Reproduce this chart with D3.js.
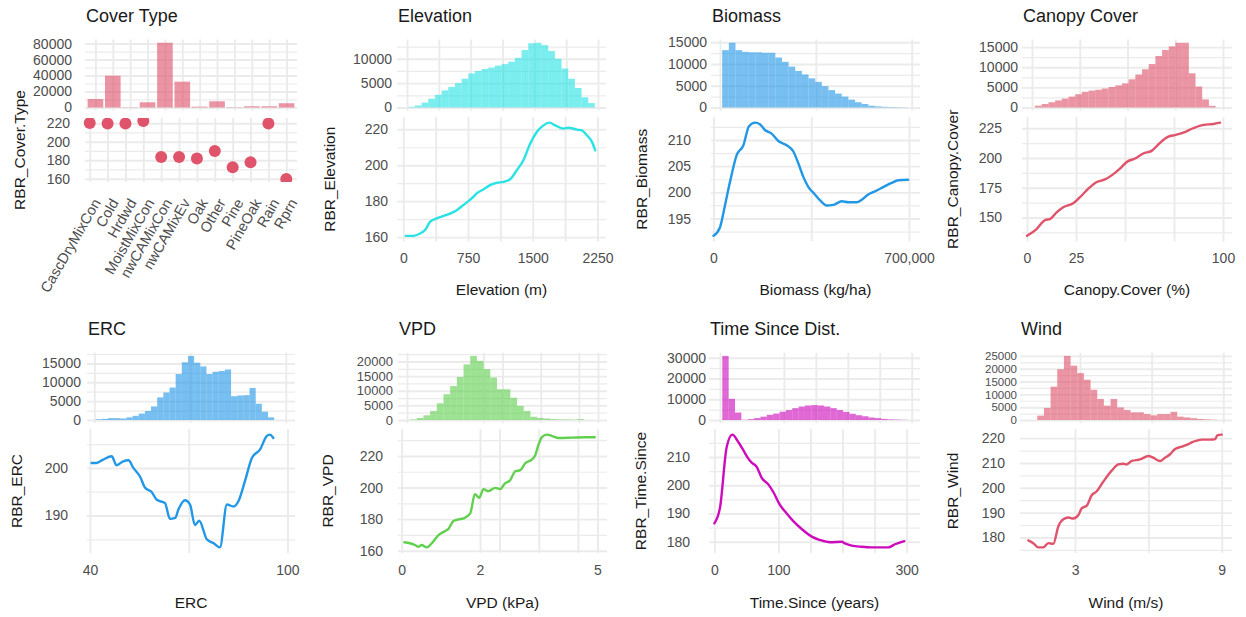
<!DOCTYPE html>
<html>
<head>
<meta charset="utf-8">
<script src="https://cdn.jsdelivr.net/npm/d3@7"></script>
<style>
  body { margin: 0; background: #ffffff; }
  svg text { font-family: "Liberation Sans", Arial, sans-serif; }
</style>
</head>
<body>
<svg id="chart" width="1246" height="617"></svg>
<script>
// ---------------- data ----------------
// Cover type (categorical)
const coverTypes = ["CascDryMixCon","Cold","Hrdwd","MoistMixCon","nwCAMixCon","nwCAMixEv","Oak","Other","Pine","PineOak","Rain","Rprn"];
const coverCounts = [10600, 39700, 300, 6500, 81000, 32300, 1000, 7700, 400, 1500, 1500, 5300];
const coverRBR = [220.3, 219.6, 219.6, 222.5, 183.6, 183.6, 181.8, 190.0, 172.4, 177.8, 219.6, 159.6];

// Elevation (m)
const elevBinStart = 15, elevBinWidth = 78.5;
const elevCounts = [140, 400, 1000, 1800, 2600, 3500, 4200, 5000, 5900, 7000, 7500, 7900, 8200, 8600, 8900, 9400, 10200, 11800, 13200, 13300, 12800, 11600, 10000, 8000, 5900, 4000, 2100, 900];
const elevX = [28, 116, 194, 252, 310, 387, 464, 542, 619, 696, 754, 812, 851, 928, 1006, 1083, 1160, 1238, 1315, 1392, 1470, 1547, 1624, 1694, 1760, 1856, 1914, 2011, 2069, 2127, 2186, 2224];
const elevRBR = [160.7, 160.7, 162.0, 163.9, 168.5, 170.4, 171.7, 173.1, 175.0, 177.8, 180.0, 182.4, 184.3, 186.5, 188.9, 190.2, 190.7, 192.2, 197.2, 202.8, 212.0, 218.5, 222.2, 223.7, 222.2, 220.4, 220.9, 219.8, 219.4, 216.7, 213.0, 208.3];

// Biomass (kg/ha)
const bioBinStart = 8000, bioBinWidth = 24250;
const bioCounts = [13200, 14900, 13200, 12800, 12700, 12700, 12600, 12600, 11500, 10500, 9400, 8400, 7600, 6700, 5900, 4900, 4000, 3200, 2500, 1800, 1200, 800, 400, 250, 150, 100, 60, 30];
const bioX = [0, 23000, 41000, 59000, 83000, 107000, 127000, 149000, 166000, 184000, 208000, 232000, 262000, 286000, 304000, 322000, 340000, 363000, 381000, 405000, 429000, 459000, 483000, 513000, 531000, 554000, 578000, 608000, 638000, 662000, 697000];
const bioRBR = [191.7, 193.3, 197.5, 202.0, 207.1, 209.0, 212.6, 213.3, 213.0, 211.9, 211.2, 209.8, 209.0, 207.8, 205.5, 202.9, 201.0, 199.6, 198.5, 197.5, 197.6, 198.3, 198.1, 198.1, 198.6, 199.6, 200.2, 201.0, 201.8, 202.3, 202.4];

// Canopy cover (%)
const canBinStart = 1.6, canBinWidth = 3.5;
const canCounts = [450, 850, 1300, 1750, 2200, 2700, 3300, 3900, 4200, 4400, 4700, 5100, 5500, 6000, 7000, 8200, 9500, 10800, 12800, 14300, 15200, 16100, 16100, 8500, 5200, 2000, 400];
const canX = [0, 4.9, 9.2, 11.7, 15.1, 18.5, 23.6, 27.9, 31.3, 35.6, 39.8, 43.2, 47.4, 50.9, 55.1, 59.3, 63.6, 67.9, 72.1, 75.5, 79.7, 84.8, 90.0, 95.1, 98.5];
const canRBR = [134.6, 140.3, 147.9, 148.7, 154.3, 158.6, 162.0, 168.5, 174.2, 179.8, 182.0, 185.4, 191.1, 196.7, 199.6, 203.8, 206.0, 212.8, 217.9, 219.3, 221.3, 225.0, 227.8, 228.6, 229.7];

// ERC
const ercBinStart = 40.4, ercBinWidth = 1.93;
const ercCounts = [200, 300, 500, 500, 400, 700, 1100, 1700, 2400, 3600, 6000, 7300, 8600, 12200, 15300, 17000, 15200, 14200, 12200, 12800, 13000, 13400, 6300, 6500, 6600, 8500, 4300, 2200, 700];
const ercX = [40.5, 42.0, 44.0, 46.6, 48.1, 50.1, 51.7, 53.2, 55.2, 56.7, 58.8, 60.3, 62.8, 64.3, 65.9, 66.9, 68.9, 70.4, 71.9, 73.2, 75.5, 77.5, 79.5, 81.6, 83.6, 85.1, 87.2, 89.2, 91.7, 93.7, 94.7, 95.7];
const ercRBR = [201.05, 201.05, 201.75, 202.45, 200.55, 201.4, 201.6, 200.0, 198.2, 195.9, 194.9, 193.3, 192.6, 189.3, 189.5, 191.3, 193.2, 192.3, 188.0, 188.9, 185.0, 184.2, 183.3, 192.3, 191.9, 193.0, 197.5, 202.1, 203.9, 206.7, 207.0, 206.3];

// VPD (kPa)
const vpdBinStart = 0.08, vpdBinWidth = 0.175;
const vpdCounts = [200, 700, 1600, 3100, 5700, 8800, 11600, 14700, 19000, 21900, 20200, 17400, 14500, 10500, 10500, 7600, 4800, 3100, 1100, 700, 500, 300, 200, 200, 100, 300];
const vpdX = [0.07, 0.21, 0.34, 0.43, 0.51, 0.64, 0.77, 0.94, 1.11, 1.19, 1.32, 1.45, 1.58, 1.75, 1.87, 1.98, 2.09, 2.21, 2.39, 2.51, 2.64, 2.77, 2.90, 3.03, 3.15, 3.32, 3.41, 3.49, 3.58, 3.71, 3.84, 4.01, 4.35, 4.69, 4.93];
const vpdRBR = [165.3, 164.7, 163.6, 162.5, 163.6, 162.1, 164.7, 169.9, 172.4, 173.7, 178.8, 179.8, 180.5, 183.6, 195.8, 193.5, 199.0, 197.7, 199.8, 199.0, 202.6, 204.6, 210.3, 211.0, 215.2, 217.7, 220.4, 226.8, 232.0, 233.5, 232.6, 231.4, 231.6, 231.8, 231.8];

// Time since disturbance (years)
const tsdBinStart = 3.6, tsdBinWidth = 9.95;
const tsdCounts = [30900, 10200, 3600, 100, 400, 900, 1600, 2500, 3100, 4000, 4800, 5700, 6500, 7000, 7200, 7000, 6500, 5700, 4800, 3900, 3000, 2300, 1800, 1200, 900, 500, 300, 200, 100];
const tsdX = [0, 8.9, 19.3, 28.1, 37.4, 45.2, 53.0, 58.3, 66.1, 73.9, 84.2, 92.0, 102.4, 112.9, 123.2, 136.3, 151.9, 164.8, 180.4, 198.7, 203.8, 214.3, 229.9, 245.4, 261.0, 271.3, 281.8, 296.3];
const tsdRBR = [186.5, 192.1, 213.5, 217.9, 215.3, 212.4, 209.4, 208.0, 206.5, 202.6, 200.3, 197.6, 193.0, 190.0, 187.3, 184.5, 181.8, 180.6, 179.8, 180.0, 179.4, 178.6, 178.2, 178.0, 178.0, 178.0, 179.1, 180.2];

// Wind (m/s)
const windBinStart = 1.21, windBinWidth = 0.279;
const windCounts = [1700, 4700, 13000, 19800, 25000, 21200, 18300, 15700, 11800, 8200, 5600, 8200, 4900, 3900, 3000, 3000, 2300, 1800, 2300, 2300, 3200, 1300, 1000, 700, 400, 250, 100];
const windX = [1.09, 1.29, 1.50, 1.70, 1.91, 2.11, 2.32, 2.52, 2.73, 2.93, 3.14, 3.27, 3.48, 3.68, 3.89, 4.16, 4.50, 4.77, 4.98, 5.11, 5.32, 5.66, 6.00, 6.20, 6.48, 6.68, 6.89, 7.09, 7.37, 7.64, 7.77, 7.98, 8.18, 8.52, 8.73, 8.82, 9.00];
const windRBR = [178.8, 177.7, 176.0, 176.0, 177.7, 177.4, 184.5, 187.3, 188.0, 187.6, 189.0, 191.7, 192.8, 197.0, 198.6, 202.5, 206.9, 209.4, 209.7, 209.4, 210.8, 211.4, 212.8, 212.1, 210.8, 212.1, 213.5, 215.6, 216.6, 217.6, 218.3, 219.0, 219.4, 219.4, 219.6, 221.1, 221.4];

// ---------------- layout & style ----------------
const rows = [
  { titleY: 22,  histTop: 39.5,  histBot: 110.7, lineTop: 117, lineBot: 241.5, tickY: 258, xTitleY: 290 },
  { titleY: 335, histTop: 352.7, histBot: 423.2, lineTop: 429, lineBot: 553,   tickY: 570, xTitleY: 603 }
];
const FONT = '"Liberation Sans", Arial, sans-serif';
const GRID = "#ebebeb";
const TICK = "#4d4d4d";
const TITLE_SIZE = 18, TICK_SIZE = 14, AXIS_TITLE_SIZE = 15.5, ROT_SIZE = 14.6;
const HIST_ALPHA = 0.62;

const panels = [
  { title: "Elevation", xTitle: "Elevation (m)", yTitle: "RBR_Elevation", color: "#28E2E5", row: 0, L: 397, R: 606, yTitleX: 330, histGap: 5, lineGap: 9,
    binStart: elevBinStart, binWidth: elevBinWidth, counts: elevCounts, histXDomain: [-118, 2344], histYTicks: [0, 5000, 10000],
    histGridX: [0, 375, 750, 1125, 1500, 1875, 2250],
    x: elevX, y: elevRBR, lineXDomain: [-73, 2349], lineYTicks: [160, 180, 200, 220],
    lineGridX: [0, 375, 750, 1125, 1500, 1875, 2250], xLabels: [0, 750, 1500, 2250], fmt: d3.format("d") },
  { title: "Biomass", xTitle: "Biomass (kg/ha)", yTitle: "RBR_Biomass", color: "#2297E6", row: 0, L: 711, R: 920, yTitleX: 642, histGap: 4, lineGap: 20,
    binStart: bioBinStart, binWidth: bioBinWidth, counts: bioCounts, histXDomain: [-32900, 730300], histYTicks: [0, 5000, 10000, 15000],
    histGridX: [0, 350000, 700000],
    x: bioX, y: bioRBR, lineXDomain: [-9000, 739500], lineYTicks: [195, 200, 205, 210],
    lineGridX: [0, 350000, 700000], xLabels: [0, 700000], fmt: d3.format(",") },
  { title: "Canopy Cover", xTitle: "Canopy.Cover (%)", yTitle: "RBR_Canopy.Cover", color: "#DF536B", row: 0, L: 1022, R: 1232, yTitleX: 953, histGap: 4, lineGap: 20,
    binStart: canBinStart, binWidth: canBinWidth, counts: canCounts, histXDomain: [-5.24, 104.7], histYTicks: [0, 5000, 10000, 15000],
    histGridX: [0, 25, 50, 75, 100],
    x: canX, y: canRBR, lineXDomain: [-2.55, 104.6], lineYTicks: [150, 175, 200, 225],
    lineGridX: [0, 25, 50, 75, 100], xLabels: [0, 25, 100], fmt: d3.format("d") },
  { title: "ERC", xTitle: "ERC", yTitle: "RBR_ERC", color: "#2297E6", row: 1, L: 87, R: 295, yTitleX: 17, histGap: 6, lineGap: 19,
    binStart: ercBinStart, binWidth: ercBinWidth, counts: ercCounts, histXDomain: [37.7, 102.9], histYTicks: [0, 5000, 10000, 15000],
    histGridX: [40, 70, 100],
    x: ercX, y: ercRBR, lineXDomain: [39.1, 102.3], lineYTicks: [190, 200],
    lineGridX: [40, 70, 100], xLabels: [40, 100], fmt: d3.format("d") },
  { title: "VPD", xTitle: "VPD (kPa)", yTitle: "RBR_VPD", color: "#61D04F", row: 1, L: 398, R: 607, yTitleX: 328, histGap: 5, lineGap: 15,
    binStart: vpdBinStart, binWidth: vpdBinWidth, counts: vpdCounts, histXDomain: [-0.236, 5.236], histYTicks: [0, 5000, 10000, 15000, 20000],
    histGridX: [0, 2, 2.5, 3.5, 4.5, 5], histTickSize: 13,
    x: vpdX, y: vpdRBR, lineXDomain: [-0.094, 5.243], lineYTicks: [160, 180, 200, 220],
    lineGridX: [0, 2, 2.5, 3.5, 4.5, 5], xLabels: [0, 2, 5], fmt: d3.format("d") },
  { title: "Time Since Dist.", xTitle: "Time.Since (years)", yTitle: "RBR_Time.Since", color: "#CD0BBC", row: 1, L: 709, R: 920, yTitleX: 641, histGap: 3, lineGap: 19,
    binStart: tsdBinStart, binWidth: tsdBinWidth, counts: tsdCounts, histXDomain: [-17.2, 313], histYTicks: [0, 10000, 20000, 30000],
    histGridX: [0, 100, 150, 200, 250, 300],
    x: tsdX, y: tsdRBR, lineXDomain: [-8.3, 320.8], lineYTicks: [180, 190, 200, 210],
    lineGridX: [0, 100, 150, 200, 250, 300], xLabels: [0, 100, 300], fmt: d3.format("d") },
  { title: "Wind", xTitle: "Wind (m/s)", yTitle: "RBR_Wind", color: "#DF536B", row: 1, L: 1020, R: 1232, yTitleX: 953, histGap: 3, lineGap: 15,
    binStart: windBinStart, binWidth: windBinWidth, counts: windCounts, histXDomain: [0.487, 9.365], histYTicks: [0, 5000, 10000, 15000, 20000, 25000],
    histGridX: [3, 6, 9], histTickSize: 11.5,
    x: windX, y: windRBR, lineXDomain: [0.75, 9.42], lineYTicks: [180, 190, 200, 210, 220],
    lineGridX: [3, 6, 9], xLabels: [3, 9], fmt: d3.format("d") }
];

const svg = d3.select("#chart");

// ggplot-style 5% expansion of a continuous range
function expand(ext, m = 0.05) {
  const d = ext[1] - ext[0];
  return [ext[0] - d * m, ext[1] + d * m];
}
// minor breaks halfway between majors, extended by half a step where it fits
function minorOf(major, domain) {
  const step = major.length > 1 ? major[1] - major[0] : 0;
  const out = [];
  for (let i = 0; i < major.length - 1; i++) out.push((major[i] + major[i + 1]) / 2);
  if (step) { out.push(major[0] - step / 2, major[major.length - 1] + step / 2); }
  const lo = Math.min(domain[0], domain[1]), hi = Math.max(domain[0], domain[1]);
  return out.filter(v => v >= lo && v <= hi);
}
function styleGrid(sel, width) {
  sel.select(".domain").remove();
  sel.selectAll("line").attr("stroke", GRID).attr("stroke-width", width);
}
function hGrid(g, y, major, L, R) {
  g.append("g").attr("transform", `translate(${L},0)`)
    .call(d3.axisLeft(y).tickValues(minorOf(major, y.domain())).tickSize(-(R - L)).tickFormat(""))
    .call(s => styleGrid(s, 1.2));
  g.append("g").attr("transform", `translate(${L},0)`)
    .call(d3.axisLeft(y).tickValues(major).tickSize(-(R - L)).tickFormat(""))
    .call(s => styleGrid(s, 1.9));
}
function vGrid(g, x, values, top, bot) {
  g.append("g").attr("transform", `translate(0,${bot})`)
    .call(d3.axisBottom(x).tickValues(values).tickSize(-(bot - top)).tickFormat(""))
    .call(s => styleGrid(s, 1.9));
}
function yLabels(g, y, ticks, L, gap, size) {
  g.append("g").attr("transform", `translate(${L},0)`)
    .call(d3.axisLeft(y).tickValues(ticks).tickSize(0).tickPadding(gap).tickFormat(d3.format("d")))
    .call(s => {
      s.select(".domain").remove();
      s.selectAll("text").attr("fill", TICK).style("font-size", (size || TICK_SIZE) + "px").style("font-family", FONT);
    });
}
function xLabels(g, x, ticks, bot, tickY, fmt) {
  g.append("g").attr("transform", `translate(0,${bot})`)
    .call(d3.axisBottom(x).tickValues(ticks).tickSize(0).tickFormat(fmt))
    .call(s => {
      s.select(".domain").remove();
      s.selectAll("text").attr("y", tickY - bot).attr("dy", "0.35em").attr("fill", TICK)
        .style("font-size", TICK_SIZE + "px").style("font-family", FONT);
    });
}
function title(g, text, x, y) {
  g.append("text").attr("x", x).attr("y", y).attr("font-size", TITLE_SIZE).attr("fill", "#1a1a1a").text(text);
}
function yTitle(g, text, x, yc) {
  g.append("text").attr("transform", `translate(${x},${yc}) rotate(-90)`).attr("text-anchor", "middle")
    .attr("dy", "0.35em").attr("font-size", AXIS_TITLE_SIZE).attr("fill", "#1a1a1a").text(text);
}
function xTitle(g, text, xc, y) {
  g.append("text").attr("x", xc).attr("y", y).attr("text-anchor", "middle").attr("dy", "0.35em")
    .attr("font-size", AXIS_TITLE_SIZE).attr("fill", "#1a1a1a").text(text);
}

// ---------------- continuous panels: histogram above, RBR curve below ----------------
panels.forEach(p => {
  const r = rows[p.row];
  const g = svg.append("g");
  title(g, p.title, p.L + 1, r.titleY);

  // histogram
  const hx = d3.scaleLinear().domain(p.histXDomain).range([p.L, p.R]);
  const maxC = d3.max(p.counts);
  const hy = d3.scaleLinear().domain([-0.05 * maxC, 1.05 * maxC]).range([r.histBot, r.histTop]);
  hGrid(g, hy, p.histYTicks, p.L, p.R);
  vGrid(g, hx, p.histGridX, r.histTop, r.histBot);
  const bins = p.counts.map((c, i) => ({ x0: p.binStart + i * p.binWidth, x1: p.binStart + (i + 1) * p.binWidth, c }));
  g.append("g").selectAll("rect").data(bins).join("rect")
    .attr("x", d => hx(d.x0)).attr("width", d => hx(d.x1) - hx(d.x0))
    .attr("y", d => hy(d.c)).attr("height", d => hy(0) - hy(d.c))
    .attr("fill", p.color).attr("fill-opacity", HIST_ALPHA);
  yLabels(g, hy, p.histYTicks, p.L, p.histGap, p.histTickSize);

  // RBR curve
  const lx = d3.scaleLinear().domain(p.lineXDomain).range([p.L, p.R]);
  const ly = d3.scaleLinear().domain(expand(d3.extent(p.y))).range([r.lineBot, r.lineTop]);
  hGrid(g, ly, p.lineYTicks, p.L, p.R);
  vGrid(g, lx, p.lineGridX, r.lineTop, r.lineBot);
  const pts = p.x.map((x, i) => [x, p.y[i]]);
  g.append("path").datum(pts)
    .attr("d", d3.line().x(d => lx(d[0])).y(d => ly(d[1])).curve(d3.curveMonotoneX))
    .attr("fill", "none").attr("stroke", p.color).attr("stroke-width", 2.4)
    .attr("stroke-linejoin", "round").attr("stroke-linecap", "round");
  yLabels(g, ly, p.lineYTicks, p.L, p.lineGap);
  xLabels(g, lx, p.xLabels, r.lineBot, r.tickY, p.fmt);
  yTitle(g, p.yTitle, p.yTitleX, (r.lineTop + r.lineBot) / 2);
  xTitle(g, p.xTitle, (p.L + p.R) / 2, r.xTitleY);
});

// ---------------- cover type panel ----------------
(function () {
  const r = rows[0];
  const L = 85, R = 297, pointL = 79;
  const lineTop = 118, lineBot = 182;
  const color = "#DF536B";
  const g = svg.append("g");
  title(g, "Cover Type", L + 1, r.titleY);

  const hx = d3.scalePoint().domain(coverTypes).range([L, R]).padding(0.6);
  const maxC = d3.max(coverCounts);
  const hy = d3.scaleLinear().domain([-0.05 * maxC, 1.05 * maxC]).range([r.histBot, r.histTop]);
  const ticks = [0, 20000, 40000, 60000, 80000];
  hGrid(g, hy, ticks, L, R);
  vGrid(g, hx, coverTypes, r.histTop, r.histBot);
  const bw = hx.step() * 0.9;
  g.append("g").selectAll("rect").data(coverTypes).join("rect")
    .attr("x", d => hx(d) - bw / 2).attr("width", bw)
    .attr("y", (d, i) => hy(coverCounts[i])).attr("height", (d, i) => hy(0) - hy(coverCounts[i]))
    .attr("fill", color).attr("fill-opacity", HIST_ALPHA);
  yLabels(g, hy, ticks, L, 13);

  const px = d3.scalePoint().domain(coverTypes).range([pointL, R]).padding(0.6);
  const py = d3.scaleLinear().domain(expand(d3.extent(coverRBR))).range([lineBot, lineTop]);
  const yt = [160, 180, 200, 220];
  hGrid(g, py, yt, L, R);
  vGrid(g, px, coverTypes, lineTop, lineBot);
  svg.append("defs").append("clipPath").attr("id", "coverClip")
    .append("rect").attr("x", 0).attr("y", lineTop).attr("width", 400).attr("height", lineBot - lineTop);
  g.append("g").attr("clip-path", "url(#coverClip)").selectAll("circle").data(coverTypes).join("circle")
    .attr("cx", d => px(d)).attr("cy", (d, i) => py(coverRBR[i])).attr("r", 6).attr("fill", color);
  yLabels(g, py, yt, L, 15);

  g.append("g").selectAll("text").data(coverTypes).join("text")
    .attr("transform", d => `translate(${px(d) + 2},${lineBot + 15}) rotate(-60)`)
    .attr("text-anchor", "end").attr("dy", "0.75em")
    .attr("font-size", ROT_SIZE).attr("fill", TICK).text(d => d);
  yTitle(g, "RBR_Cover.Type", 20, (lineTop + lineBot) / 2);
})();
</script>
</body>
</html>
